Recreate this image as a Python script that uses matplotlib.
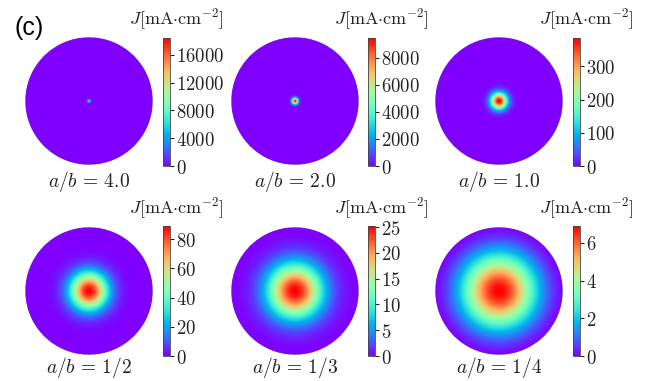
import numpy as np
import matplotlib
matplotlib.use("Agg")
import matplotlib.pyplot as plt
from matplotlib.patches import Circle

plt.rcParams["mathtext.fontset"] = "cm"

# values
ratio_labels = ["4.0", "2.0", "1.0", "1/2", "1/3", "1/4"]
cbar_max = [18400, 9450, 385, 89, 25.2, 6.9]
peak_shown = [8200, 9450, 385, 89, 25.2, 6.9]
spot_width = [0.025, 0.05, 0.13, 0.29, 0.42, 0.58]
cbar_ticks = [
    [0, 4000, 8000, 12000, 16000],
    [0, 2000, 4000, 6000, 8000],
    [0, 100, 200, 300],
    [0, 20, 40, 60, 80],
    [0, 5, 10, 15, 20, 25],
    [0, 2, 4, 6],
]

W, H = 652, 381
fig = plt.figure(figsize=(W / 100, H / 100), dpi=100)

def fx(px):
    return px / W

def fy(py):
    return 1 - py / H

col_cx = [89, 295, 499]
cbar_x = [163, 368, 573]
row_disk = [(37, 165), (227, 355)]
row_cbar = [(38, 166), (226, 356)]
row_title = [19, 208]
row_label = [181, 368]
R = 64

n = 301
g = np.linspace(-1, 1, n)
X, Y = np.meshgrid(g, g)
rr = np.hypot(X, Y)

for i in range(6):
    row, col = divmod(i, 3)
    top, bot = row_disk[row]
    cx = col_cx[col]
    ax = fig.add_axes([fx(cx - R), fy(bot), fx(2 * R), (bot - top) / H])
    # peaked profile, falling to ~0 at the rim
    edge = np.exp(-(1 / spot_width[i]) ** 2)
    prof = (np.exp(-(rr / spot_width[i]) ** 2) - edge) / (1 - edge)
    Z = peak_shown[i] * np.clip(prof, 0, None)
    Z = np.ma.masked_where(rr > 1.0, Z)
    im = ax.imshow(Z, cmap="rainbow", vmin=0, vmax=cbar_max[i],
                   extent=(-1, 1, -1, 1), origin="lower", interpolation="bilinear")
    circ = Circle((0, 0), 1.0, transform=ax.transData, facecolor="none", edgecolor="none")
    ax.add_patch(circ)
    im.set_clip_path(circ)
    ax.set_xlim(-1, 1)
    ax.set_ylim(-1, 1)
    ax.axis("off")

    ctop, cbot = row_cbar[row]
    cx0 = cbar_x[col]
    cax = fig.add_axes([fx(cx0), fy(cbot), fx(7), (cbot - ctop) / H])
    cb = fig.colorbar(im, cax=cax, ticks=cbar_ticks[i])
    cb.ax.set_yticklabels([f"${t}$" for t in cbar_ticks[i]], fontsize=13.5)
    cb.ax.tick_params(length=3, width=0.8, pad=1, colors="#222222")
    cb.outline.set_linewidth(0.6)
    cb.outline.set_edgecolor("#444444")

    fig.text(fx(cx0 + 13), fy(row_title[row]), r"$J[\mathrm{mA{\cdot}cm^{-2}}]$",
             ha="center", va="center", fontsize=13, color="#222222")
    fig.text(fx(cx), fy(row_label[row]), r"$a/b\,=\," + ratio_labels[i] + "$",
             ha="center", va="center", fontsize=14, color="#222222")

fig.text(fx(29), fy(28), "(c)", ha="center", va="center", fontsize=18,
         family="Liberation Sans")

fig.savefig("out.png", dpi=100)
